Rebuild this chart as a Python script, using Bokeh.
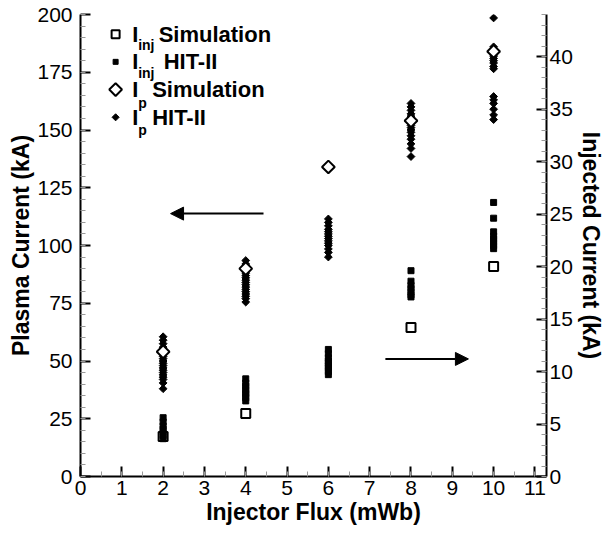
from bokeh.plotting import figure
from bokeh.models import Range1d, LinearAxis, SingleIntervalTicker, Arrow, NormalHead
from bokeh.core.properties import value
from bokeh.embed import file_html
from bokeh.resources import INLINE
import math

FONT = "Liberation Sans"

# ---------------- data ----------------
flux = [2, 4, 6, 8, 10]
ip_sim = [54, 90, 134, 154, 184]              # Plasma current, simulation (kA)
inj_sim_flux = [2, 4, 8, 10]
inj_sim = [3.8, 6.0, 14.2, 20.0]              # Injected current, simulation (kA)

ip_hit_2 = [60.5, 59, 57.5, 56, 55, 54, 53, 52, 51, 50, 49, 48, 47, 46, 45, 44, 43, 42, 40.5, 38]
ip_hit_4 = [93.5, 92, 91, 90, 89, 88, 87, 86, 85, 84, 83, 82, 81, 80, 79, 78, 77, 75.5]
ip_hit_6 = [111.5, 110, 108.5, 107, 106, 105, 104, 103, 102, 101, 100, 98.5, 97, 95]
ip_hit_8 = [161.5, 160, 158.5, 157, 156, 155, 154, 153, 152, 151, 150, 149, 147.5, 146, 144, 142, 138.5]
ip_hit_10 = [198.5, 186, 185, 184, 183, 182, 181, 180, 179, 177.5, 176.5, 164.5, 163, 161.5, 159, 156.5, 154.5]

inj_hit_2 = [5.6, 5.2, 4.8, 4.5, 4.2, 3.9, 3.6]
inj_hit_4 = [9.3, 8.9, 8.6, 8.3, 8.0, 7.8, 7.5, 7.2]
inj_hit_6 = [12.1, 11.7, 11.3, 11.0, 10.8, 10.5, 10.3, 10.0, 9.7]
inj_hit_8 = [19.6, 18.6, 18.2, 17.9, 17.6, 17.3, 17.1]
inj_hit_10 = [26.1, 24.6, 23.3, 22.9, 22.6, 22.3, 22.0, 21.7]

ip_hit_groups = [ip_hit_2, ip_hit_4, ip_hit_6, ip_hit_8, ip_hit_10]
inj_hit_groups = [inj_hit_2, inj_hit_4, inj_hit_6, inj_hit_8, inj_hit_10]

x_ticks_interval = 1
left_ticks_interval = 25
right_ticks_interval = 5

# arrows (x_start, x_end, y) in left-axis units
arrow_left = (4.43, 2.18, 113.8)
arrow_right = (7.38, 9.39, 50.9)

# legend
legend_main = ["I", "I", "I", "I"]
legend_sub = ["inj", "inj", "p", "p"]
legend_desc = ["Simulation", "HIT-II", "Simulation", "HIT-II"]
legend_y = [191.5, 179.5, 167.5, 155.5]       # row centres (left-axis units)
legend_marker_x = 0.85
legend_text_x = 1.25

# ---------------- figure ----------------
p = figure(frame_width=466, frame_height=462,
           x_range=Range1d(0, 11.28), y_range=Range1d(0, 200),
           output_backend="svg", toolbar_location=None,
           min_border_left=80, min_border_right=60, min_border_top=14, min_border_bottom=59)
p.outline_line_color = None
p.grid.visible = False
p.background_fill_color = "white"
p.border_fill_color = "white"
p.extra_y_ranges = {"inj": Range1d(0, 44)}

right_axis = LinearAxis(y_range_name="inj")
p.add_layout(right_axis, "right")


def style(ax, ticker, title, standoff):
    ax.ticker = ticker
    ax.axis_label = title
    ax.axis_label_text_font = FONT
    ax.axis_label_text_font_style = "bold"
    ax.axis_label_text_font_size = "23px"
    ax.axis_label_text_color = "black"
    ax.axis_label_standoff = standoff
    ax.major_label_text_font = FONT
    ax.major_label_text_font_size = "21px"
    ax.major_label_text_color = "black"
    ax.axis_line_width = 2
    ax.axis_line_color = "black"
    ax.major_tick_in = 10
    ax.major_tick_out = 0
    ax.major_tick_line_width = 2
    ax.major_tick_line_color = "black"
    ax.minor_tick_in = 5
    ax.minor_tick_out = 0
    ax.minor_tick_line_width = 1
    ax.minor_tick_line_color = "#999999"


style(p.xaxis[0], SingleIntervalTicker(interval=x_ticks_interval, num_minor_ticks=2),
      "Injector Flux (mWb)", 1)
p.xaxis[0].major_label_standoff = 4
style(p.yaxis[0], SingleIntervalTicker(interval=left_ticks_interval, num_minor_ticks=5),
      "Plasma Current (kA)", 0)
p.yaxis[0].major_label_standoff = 8
style(right_axis, SingleIntervalTicker(interval=right_ticks_interval, num_minor_ticks=5),
      "Injected Current (kA)", 2)
right_axis.major_label_standoff = 3

# ---------------- data marks ----------------
ip_x, ip_y = [], []
for f, grp in zip(flux, ip_hit_groups):
    ip_x += [f] * len(grp)
    ip_y += grp
inj_x, inj_y = [], []
for f, grp in zip(flux, inj_hit_groups):
    inj_x += [f] * len(grp)
    inj_y += grp

p.scatter(inj_x, inj_y, marker="square", size=6, fill_color="black", line_color="black",
          y_range_name="inj")
p.scatter(inj_sim_flux, inj_sim, marker="square", size=9, fill_color=None, line_color="black",
          line_width=2, y_range_name="inj")
p.scatter(ip_x, ip_y, marker="square", angle=math.pi / 4, size=5.5, fill_color="black",
          line_color="black")
p.scatter(flux, ip_sim, marker="square", angle=math.pi / 4, size=9, fill_color="white",
          line_color="black", line_width=2)

# ---------------- arrows ----------------
for xs, xe, yy in (arrow_left, arrow_right):
    p.add_layout(Arrow(end=NormalHead(size=13, fill_color="black", line_color="black"),
                       x_start=xs, y_start=yy, x_end=xe, y_end=yy,
                       line_width=2, line_color="black"))

# ---------------- legend ----------------
lm_x = [legend_marker_x] * 4
p.scatter(lm_x[0:1], legend_y[0:1], marker="square", size=8, fill_color=None,
          line_color="black", line_width=2)
p.scatter(lm_x[1:2], legend_y[1:2], marker="square", size=5, fill_color="black",
          line_color="black")
p.scatter(lm_x[2:3], legend_y[2:3], marker="square", angle=math.pi / 4, size=9,
          fill_color="white", line_color="black", line_width=2)
p.scatter(lm_x[3:4], legend_y[3:4], marker="square", angle=math.pi / 4, size=5,
          fill_color="black", line_color="black")

lt_x = [legend_text_x] * 4
p.text(lt_x, legend_y, text=legend_main, text_font=value(FONT), text_font_style="bold",
       text_font_size="22px", text_baseline="middle", text_align="left", text_color="black")
p.text(lt_x, legend_y, text=legend_sub, x_offset=6, y_offset=[11, 11, 13, 13], text_font=value(FONT),
       text_font_style="bold", text_font_size="14px", text_baseline="middle",
       text_align="left", text_color="black")
p.text(lt_x, legend_y, text=legend_desc, x_offset=[26.5, 31.5, 20, 20], text_font=value(FONT),
       text_font_style="bold", text_font_size="22px", text_baseline="middle",
       text_align="left", text_color="black")

open("out.html", "w").write(file_html(p, INLINE))
